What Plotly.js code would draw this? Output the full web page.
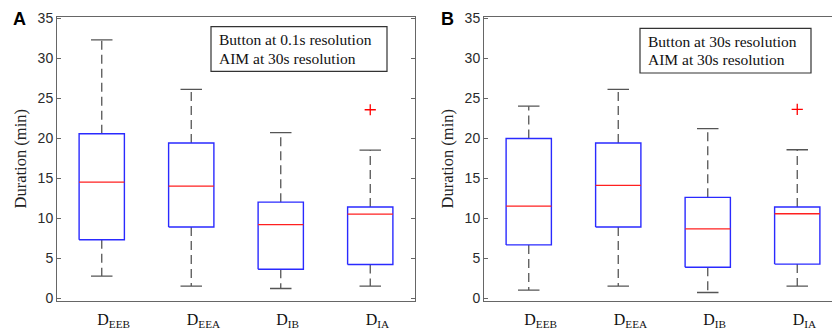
<!DOCTYPE html>
<html>
<head>
<meta charset="utf-8">
<script src="https://cdn.plot.ly/plotly-3.0.1.min.js"></script>
<style>
html,body{margin:0;padding:0;overflow:hidden;background:#fff;}
#chart{width:845px;height:333px;}
</style>
</head>
<body>
<div id="chart"></div>
<script>
// ---- data ----
var categories = ['D<sub>EEB</sub>', 'D<sub>EEA</sub>', 'D<sub>IB</sub>', 'D<sub>IA</sub>'];
var yTicks = [0, 5, 10, 15, 20, 25, 30, 35];

// Panel A: Button at 0.1s resolution, AIM at 30s resolution
var upperA  = [32.3, 26.1, 20.7, 18.5];
var q3A     = [20.55, 19.4, 12.0, 11.4];
var medianA = [14.5, 14.0, 9.2, 10.5];
var q1A     = [7.3, 8.9, 3.6, 4.2];
var lowerA  = [2.75, 1.5, 1.2, 1.5];
var outlierCatA = [4];
var outlierValA = [23.55];

// Panel B: Button at 30s resolution, AIM at 30s resolution
var upperB  = [24.0, 26.1, 21.2, 18.55];
var q3B     = [19.95, 19.4, 12.6, 11.4];
var medianB = [11.5, 14.1, 8.65, 10.55];
var q1B     = [6.65, 8.9, 3.85, 4.25];
var lowerB  = [1.0, 1.5, 0.7, 1.5];
var outlierCatB = [4];
var outlierValB = [23.6];

// ---- layout helpers ----
var W = 845, H = 333;
function px(x){ return x / W; }
function py(y){ return 1 - y / H; }
var BOXHALF = 0.253, CAPHALF = 0.12;

function panelTraces(up, q3, med, q1, lo, oc, ov, xa, ya){
  var wx = [], wy = [], cx = [], cy = [], bx = [], by = [], mx = [], my = [];
  for (var k = 0; k < up.length; k++){
    var c = k + 1;
    wx.push(c, c, null, c, c, null);
    wy.push(q3[k], up[k], null, q1[k], lo[k], null);
    cx.push(c - CAPHALF, c + CAPHALF, null, c - CAPHALF, c + CAPHALF, null);
    cy.push(up[k], up[k], null, lo[k], lo[k], null);
    bx.push(c - BOXHALF, c + BOXHALF, c + BOXHALF, c - BOXHALF, c - BOXHALF, null);
    by.push(q1[k], q1[k], q3[k], q3[k], q1[k], null);
    mx.push(c - BOXHALF, c + BOXHALF, null);
    my.push(med[k], med[k], null);
  }
  return [
    {type:'scatter', mode:'lines', x:wx, y:wy, xaxis:xa, yaxis:ya, hoverinfo:'skip',
     line:{color:'#555555', width:1.3, dash:'9px,5px'}},
    {type:'scatter', mode:'lines', x:cx, y:cy, xaxis:xa, yaxis:ya, hoverinfo:'skip',
     line:{color:'#555555', width:1.3}},
    {type:'scatter', mode:'lines', x:bx, y:by, xaxis:xa, yaxis:ya, hoverinfo:'skip',
     line:{color:'#2a2aff', width:1.4}},
    {type:'scatter', mode:'lines', x:mx, y:my, xaxis:xa, yaxis:ya, hoverinfo:'skip',
     line:{color:'#ff2020', width:1.3}},
    {type:'scatter', mode:'markers', x:oc, y:ov, xaxis:xa, yaxis:ya,
     marker:{symbol:'cross-thin-open', size:8, color:'#ff0000', line:{color:'#ff0000', width:1.3}}}
  ];
}

var data = panelTraces(upperA, q3A, medianA, q1A, lowerA, outlierCatA, outlierValA, 'x', 'y')
  .concat(panelTraces(upperB, q3B, medianB, q1B, lowerB, outlierCatB, outlierValB, 'x2', 'y2'));

var serif = "'Liberation Serif', 'Times New Roman', serif";
var sans = "'Liberation Sans', Arial, sans-serif";

function xAxis(dom, anchor){
  return {domain:dom, anchor:anchor, range:[0.5, 4.5], tickmode:'array',
    tickvals:[1,2,3,4], ticktext:categories, ticks:'', showgrid:false, zeroline:false,
    showline:true, linecolor:'#666666', linewidth:1, mirror:true,
    ticklabelposition:'outside right', ticklabelshift:-5, ticklabelstandoff:4,
    tickfont:{family:serif, size:16, color:'#111111'}};
}
function yAxis(dom, anchor){
  return {domain:dom, anchor:anchor, range:[-0.3, 35.15], tickmode:'array',
    tickvals:yTicks, ticks:'inside', ticklen:4, tickcolor:'#666666', showgrid:false,
    zeroline:false, showline:true, linecolor:'#666666', linewidth:1, mirror:'allticks',
    tickfont:{family:sans, size:14, color:'#2a2a2a'},
    title:{text:'Duration (min)', font:{family:serif, size:16.5, color:'#222222'}, standoff:6}};
}

var yDom = [py(300.5), py(17)];
var layout = {
  width:W, height:H, margin:{l:0, r:0, t:0, b:0}, showlegend:false,
  paper_bgcolor:'#ffffff', plot_bgcolor:'#ffffff',
  xaxis: xAxis([px(57), px(415)], 'y'),
  yaxis: yAxis(yDom, 'x'),
  xaxis2: xAxis([px(484), px(842)], 'y2'),
  yaxis2: yAxis(yDom, 'x2'),
  shapes:[
    {type:'rect', xref:'paper', yref:'paper', x0:px(211), x1:px(387), y0:py(71.3), y1:py(26.7),
     line:{color:'#333333', width:1.2}, fillcolor:'rgba(0,0,0,0)'},
    {type:'rect', xref:'paper', yref:'paper', x0:px(640), x1:px(811), y0:py(73), y1:py(28.3),
     line:{color:'#333333', width:1.2}, fillcolor:'rgba(0,0,0,0)'}
  ],
  annotations:[
    {text:'<b>A</b>', xref:'paper', yref:'paper', x:px(19), y:py(19), xanchor:'center', yanchor:'middle',
     showarrow:false, font:{family:sans, size:18, color:'#000000'}},
    {text:'<b>B</b>', xref:'paper', yref:'paper', x:px(447.5), y:py(19), xanchor:'center', yanchor:'middle',
     showarrow:false, font:{family:sans, size:18, color:'#000000'}},
    {text:'Button at 0.1s resolution', xref:'paper', yref:'paper', x:px(217), y:py(39.7), xanchor:'left', yanchor:'middle',
     showarrow:false, font:{family:serif, size:15.5, color:'#111111'}},
    {text:'AIM at 30s resolution', xref:'paper', yref:'paper', x:px(217), y:py(58.3), xanchor:'left', yanchor:'middle',
     showarrow:false, font:{family:serif, size:15.5, color:'#111111'}},
    {text:'Button at 30s resolution', xref:'paper', yref:'paper', x:px(645.5), y:py(41.7), xanchor:'left', yanchor:'middle',
     showarrow:false, font:{family:serif, size:15.5, color:'#111111'}},
    {text:'AIM at 30s resolution', xref:'paper', yref:'paper', x:px(645.5), y:py(60), xanchor:'left', yanchor:'middle',
     showarrow:false, font:{family:serif, size:15.5, color:'#111111'}}
  ]
};

Plotly.newPlot('chart', data, layout, {displayModeBar:false, staticPlot:true});
</script>
</body>
</html>
